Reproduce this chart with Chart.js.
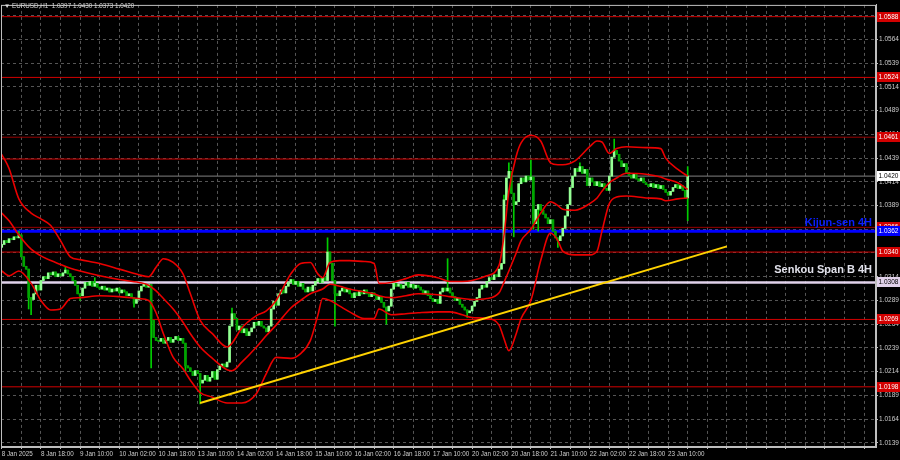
<!DOCTYPE html>
<html>
<head>
<meta charset="utf-8">
<script src="https://cdn.jsdelivr.net/npm/chart.js@4.4.1/dist/chart.umd.min.js"></script>
<style>
  html, body { margin: 0; padding: 0; background: #000; }
  #wrap { position: relative; width: 900px; height: 460px; }
  #title {
    position: absolute; left: 4px; top: 2px;
    font: 6.3px 'Liberation Sans', sans-serif;
    color: #d8d8d8; white-space: pre;
  }
</style>
</head>
<body>
<div id="wrap">
  <canvas id="eurChart" width="900" height="460"></canvas>
  <div id="title">▼ EURUSD,H1  1.0397 1.0430 1.0373 1.0420</div>
</div>
<script>
// EURUSD H1, 8 Jan 02:00 .. 23 Jan, one close per hour bar
const firstOpen = 1.0345;
const closes = [
  1.0348,1.0352,1.0350,1.0354,1.0353,1.0356,1.0355,1.0358,1.0335,1.0325,
  1.0322,1.0292,1.0290,1.0296,1.0305,1.0300,1.0310,1.0314,1.0312,1.0318,
  1.0316,1.0319,1.0314,1.0317,1.0315,1.0318,1.0321,1.0317,1.0314,1.0310,
  1.0305,1.0296,1.0294,1.0302,1.0308,1.0305,1.0309,1.0304,1.0307,1.0303,
  1.0301,1.0304,1.0300,1.0302,1.0298,1.0301,1.0299,1.0302,1.0297,1.0300,
  1.0298,1.0294,1.0296,1.0292,1.0286,1.0290,1.0299,1.0304,1.0306,1.0303,
  1.0306,1.0268,1.0250,1.0247,1.0246,1.0249,1.0244,1.0247,1.0250,1.0245,
  1.0248,1.0251,1.0247,1.0249,1.0244,1.0220,1.0218,1.0214,1.0210,1.0215,
  1.0212,1.0202,1.0205,1.0210,1.0204,1.0208,1.0214,1.0206,1.0216,1.0220,
  1.0222,1.0219,1.0224,1.0262,1.0275,1.0270,1.0258,1.0262,1.0255,1.0259,
  1.0252,1.0256,1.0260,1.0266,1.0263,1.0267,1.0262,1.0260,1.0256,1.0262,
  1.0280,1.0288,1.0284,1.0296,1.0300,1.0297,1.0304,1.0308,1.0311,1.0306,
  1.0309,1.0304,1.0307,1.0301,1.0298,1.0303,1.0299,1.0305,1.0309,1.0312,
  1.0308,1.0313,1.0310,1.0340,1.0328,1.0310,1.0296,1.0294,1.0299,1.0302,
  1.0298,1.0301,1.0296,1.0292,1.0297,1.0294,1.0299,1.0296,1.0300,1.0296,
  1.0293,1.0297,1.0294,1.0290,1.0293,1.0287,1.0282,1.0278,1.0283,1.0301,
  1.0307,1.0304,1.0306,1.0302,1.0305,1.0308,1.0303,1.0306,1.0302,1.0305,
  1.0303,1.0300,1.0296,1.0299,1.0294,1.0291,1.0288,1.0290,1.0286,1.0298,
  1.0302,1.0299,1.0302,1.0297,1.0293,1.0289,1.0291,1.0285,1.0282,1.0279,
  1.0276,1.0278,1.0283,1.0288,1.0292,1.0301,1.0305,1.0303,1.0309,1.0313,
  1.0311,1.0316,1.0314,1.0322,1.0328,1.0395,1.0418,1.0425,1.0402,1.0390,
  1.0393,1.0412,1.0418,1.0414,1.0420,1.0416,1.0419,1.0370,1.0385,1.0390,
  1.0384,1.0380,1.0376,1.0370,1.0374,1.0362,1.0355,1.0352,1.0357,1.0365,
  1.0378,1.0390,1.0408,1.0420,1.0428,1.0425,1.0430,1.0423,1.0427,1.0410,
  1.0418,1.0414,1.0410,1.0414,1.0409,1.0412,1.0407,1.0405,1.0420,1.0440,
  1.0447,1.0443,1.0436,1.0430,1.0433,1.0424,1.0421,1.0418,1.0422,1.0417,
  1.0415,1.0418,1.0413,1.0411,1.0409,1.0412,1.0408,1.0411,1.0407,1.0410,
  1.0406,1.0403,1.0400,1.0404,1.0408,1.0411,1.0407,1.0410,1.0405,1.0397,
  1.0420
];

// bars with a visible wick beyond the body
const highIdx = [7, 26, 38, 94, 133, 182, 205, 207, 216, 236, 250, 280];
const highVal = [1.0362, 1.0325, 1.0313, 1.0281, 1.0355, 1.0333, 1.0400, 1.0434, 1.0437, 1.0434, 1.0459, 1.0430];
const lowIdx = [11, 12, 32, 54, 61, 75, 81, 136, 157, 190, 209, 217, 219, 227, 280];
const lowVal = [1.0280, 1.0274, 1.0289, 1.0282, 1.0218, 1.0214, 1.0180, 1.0262, 1.0264, 1.0271, 1.0356, 1.0364, 1.0362, 1.0345, 1.0373];

// bollinger bands, read at these bars
const bandIdx = [0,3,7,12,16,20,24,28,32,40,48,56,60,63,66,70,74,77,81,86,92,94,98,104,108,112,118,122,126,129,131,134,138,142,148,152,154,159,165,170,178,183,188,192,198,203,205,207,210,212,216,220,224,227,229,234,240,243,245,248,251,255,263,269,271,276,280];
const bandUpper = [1.0443,1.0428,1.0396,1.0381,1.0375,1.0368,1.0352,1.0335,1.0332,1.0328,1.0322,1.0316,1.0314,1.0324,1.0333,1.0329,1.0317,1.0296,1.0268,1.0254,1.0240,1.0244,1.0260,1.0273,1.0278,1.0289,1.0317,1.0328,1.0329,1.0317,1.0313,1.0329,1.0331,1.0331,1.0330,1.0328,1.0307,1.0308,1.0312,1.0316,1.0313,1.0309,1.0309,1.0310,1.0315,1.0326,1.0357,1.0404,1.0441,1.0455,1.0463,1.0457,1.0434,1.0432,1.0432,1.0436,1.0451,1.0457,1.0456,1.0444,1.0449,1.0451,1.0450,1.0449,1.0439,1.0427,1.0420];
const bandMiddle = [1.0381,1.0373,1.0358,1.0343,1.0336,1.0331,1.0327,1.0323,1.0320,1.0315,1.0311,1.0308,1.0305,1.0299,1.0291,1.0280,1.0266,1.0254,1.0240,1.0228,1.0216,1.0215,1.0224,1.0240,1.0252,1.0263,1.0281,1.0289,1.0296,1.0299,1.0301,1.0306,1.0304,1.0301,1.0298,1.0296,1.0294,1.0292,1.0294,1.0296,1.0295,1.0293,1.0291,1.0290,1.0291,1.0297,1.0308,1.0320,1.0339,1.0352,1.0364,1.0381,1.0393,1.0389,1.0385,1.0384,1.0391,1.0397,1.0404,1.0413,1.0418,1.0423,1.0422,1.0419,1.0417,1.0413,1.0406];
const bandLower = [1.0320,1.0315,1.0320,1.0307,1.0289,1.0279,1.0280,1.0291,1.0292,1.0294,1.0293,1.0291,1.0289,1.0276,1.0254,1.0229,1.0217,1.0205,1.0192,1.0187,1.0181,1.0181,1.0181,1.0191,1.0212,1.0229,1.0228,1.0233,1.0247,1.0273,1.0291,1.0289,1.0283,1.0277,1.0270,1.0270,1.0280,1.0274,1.0275,1.0276,1.0277,1.0277,1.0274,1.0271,1.0270,1.0263,1.0249,1.0236,1.0254,1.0270,1.0289,1.0331,1.0360,1.0352,1.0341,1.0337,1.0337,1.0341,1.0362,1.0391,1.0398,1.0399,1.0397,1.0396,1.0394,1.0396,1.0397];

// horizontal levels
const levelPrices = [1.0588, 1.0524, 1.0461, 1.0438, 1.0420, 1.0366, 1.0340, 1.0269, 1.0198];
const levelEnd = [null, null, null, 232, null, null, null, null, null];
const kijunPrice = 1.0362;
const senkouPrice = 1.0308;

// trend line
const trendIdx = [81, 296];
const trendPrice = [1.0181, 1.0346];

// axis labels
const labelIdx = [0, 16, 32, 48, 64, 80, 96, 112, 128, 144, 160, 176, 192, 208, 224, 240, 256, 272];
const labelText = ["8 Jan 2025", "8 Jan 18:00", "9 Jan 10:00", "10 Jan 02:00", "10 Jan 18:00", "13 Jan 10:00",
  "14 Jan 02:00", "14 Jan 18:00", "15 Jan 10:00", "16 Jan 02:00", "16 Jan 18:00", "17 Jan 10:00",
  "20 Jan 02:00", "20 Jan 18:00", "21 Jan 10:00", "22 Jan 02:00", "22 Jan 18:00", "23 Jan 10:00"];
const priceTicks = [1.0139, 1.0164, 1.0189, 1.0214, 1.0239, 1.0264, 1.0289, 1.0314, 1.0339, 1.0364,
  1.0389, 1.0414, 1.0439, 1.0464, 1.0489, 1.0514, 1.0539, 1.0564, 1.0589];

// price tags on the right axis and captions
const boxPrices = [1.0588, 1.0524, 1.0461, 1.0420, 1.0366, 1.0362, 1.0340, 1.0308, 1.0269, 1.0198];
const captionText = ["Kijun-sen 4H", "Senkou Span B 4H"];
const captionPrice = [1.0366, 1.0317];

// ---- styles ----
const FONT = "'Liberation Sans', Arial, sans-serif";
const X_MIN = -0.29, X_MAX = 356.86;
const Y_MIN = 1.01346, Y_MAX = 1.06004;
const GRID = "rgb(85,85,85)";
const AXIS = "rgb(190,190,190)";
const TEXT = "rgb(205,205,205)";
const RED = "rgb(210,0,0)";
const DARK_RED = "rgb(150,0,0)";
const BAND_RED = "rgb(235,0,0)";
const levelColors = [RED, RED, DARK_RED, RED, "rgb(130,130,130)", DARK_RED, RED, RED, RED];
const boxFill = [RED, RED, RED, "#ffffff", RED, "rgb(0,0,255)", RED, "rgb(225,210,235)", RED, RED];
const boxInk = ["#fff", "#fff", "#fff", "#000", "#fff", "#fff", "#fff", "#000", "#fff", "#fff"];
const captionColor = ["rgb(10,30,255)", "rgb(225,225,235)"];
const WICK = "rgb(0,205,0)";
const BULL = "rgb(150,255,150)";
const BEAR = "rgb(0,165,0)";

const candleOpen = closes.map((c, i) => i === 0 ? firstOpen : closes[i - 1]);
const candleHigh = closes.map((c, i) => Math.max(c, candleOpen[i]));
const candleLow = closes.map((c, i) => Math.min(c, candleOpen[i]));
highIdx.forEach((k, j) => { candleHigh[k] = highVal[j]; });
lowIdx.forEach((k, j) => { candleLow[k] = lowVal[j]; });

const gridIdx = [];
for (let v = 0; v <= X_MAX; v += 8) gridIdx.push(v);

const levelSets = levelPrices.map((p, i) => ({
  type: 'line',
  data: [{ x: X_MIN, y: p }, { x: levelEnd[i] === null ? X_MAX : levelEnd[i], y: p }],
  borderColor: levelColors[i],
  borderWidth: 1,
  pointRadius: 0,
  order: 9
}));

const bandSet = (vals) => ({
  type: 'line',
  data: bandIdx.map((k, i) => ({ x: k, y: vals[i] })),
  borderColor: BAND_RED,
  borderWidth: 1.6,
  pointRadius: 0,
  cubicInterpolationMode: 'monotone',
  order: 3
});

const overlayPlugin = {
  id: 'mtOverlay',
  afterDraw(chart) {
    const { ctx, chartArea: a } = chart;
    const y = chart.scales.y;
    ctx.save();
    ctx.strokeStyle = AXIS;
    ctx.lineWidth = 1;
    ctx.strokeRect(a.left + 0.5, a.top + 0.5, a.right - a.left - 1, a.bottom - a.top - 1);

    ctx.font = "bold 11px " + FONT;
    ctx.textAlign = 'right';
    ctx.textBaseline = 'alphabetic';
    captionText.forEach((t, i) => {
      ctx.fillStyle = captionColor[i];
      ctx.fillText(t, a.right - 4, y.getPixelForValue(captionPrice[i]) - 1);
    });

    ctx.font = "6.5px " + FONT;
    ctx.textAlign = 'left';
    ctx.textBaseline = 'middle';
    boxPrices.forEach((p, i) => {
      const py = Math.round(y.getPixelForValue(p));
      ctx.fillStyle = boxFill[i];
      ctx.fillRect(a.right + 1, py - 5, 23, 10);
      ctx.fillStyle = boxInk[i];
      ctx.fillText(p.toFixed(4), a.right + 2.5, py + 0.5);
    });
    ctx.restore();
  }
};

const ctx = document.getElementById('eurChart').getContext('2d');

new Chart(ctx, {
  type: 'bar',
  data: {
    datasets: [
      ...levelSets,
      {
        type: 'line',
        data: [{ x: X_MIN, y: senkouPrice }, { x: X_MAX, y: senkouPrice }],
        borderColor: "rgb(225,210,235)", borderWidth: 2.5, pointRadius: 0, order: 8
      },
      {
        type: 'line',
        data: [{ x: X_MIN, y: kijunPrice }, { x: X_MAX, y: kijunPrice }],
        borderColor: "rgb(0,0,255)", borderWidth: 3, pointRadius: 0, order: 8
      },
      {
        type: 'bar',
        data: closes.map((c, i) => ({ x: i, y: [candleLow[i], candleHigh[i]] })),
        backgroundColor: WICK,
        barThickness: 1,
        minBarLength: 1,
        grouped: false,
        order: 6
      },
      {
        type: 'bar',
        data: closes.map((c, i) => ({ x: i, y: [candleOpen[i], c] })),
        backgroundColor: closes.map((c, i) => c >= candleOpen[i] ? BULL : BEAR),
        borderWidth: 0,
        barThickness: 2,
        minBarLength: 1,
        grouped: false,
        order: 5
      },
      bandSet(bandUpper),
      bandSet(bandMiddle),
      bandSet(bandLower),
      {
        type: 'line',
        data: trendIdx.map((k, i) => ({ x: k, y: trendPrice[i] })),
        borderColor: "rgb(255,210,0)", borderWidth: 2, pointRadius: 0, order: 1
      }
    ]
  },
  options: {
    responsive: false,
    animation: false,
    devicePixelRatio: 1,
    layout: { padding: { left: 1, top: 3, right: 0, bottom: 0 } },
    plugins: { legend: { display: false }, tooltip: { enabled: false } },
    scales: {
      x: {
        type: 'linear',
        min: X_MIN,
        max: X_MAX,
        offset: false,
        grid: { color: GRID, offset: false, drawTicks: true, tickLength: 2, tickColor: AXIS },
        border: { color: AXIS, dash: [3, 3] },
        afterBuildTicks: s => { s.ticks = gridIdx.map(v => ({ value: v })); },
        afterFit: s => { s.height = 13; },
        ticks: {
          autoSkip: false, maxRotation: 0, minRotation: 0, align: 'start', padding: 1,
          color: TEXT, font: { family: FONT, size: 6.3 },
          callback: v => { const k = labelIdx.indexOf(v); return k >= 0 ? labelText[k] : ''; }
        }
      },
      y: {
        position: 'right',
        min: Y_MIN,
        max: Y_MAX,
        grid: { color: GRID, drawTicks: true, tickLength: 2, tickColor: AXIS },
        border: { color: AXIS, dash: [3, 3] },
        afterBuildTicks: s => { s.ticks = priceTicks.map(v => ({ value: v })); },
        afterFit: s => { s.width = 24; },
        ticks: {
          padding: 1, color: TEXT, font: { family: FONT, size: 6.5 },
          callback: v => v.toFixed(4)
        }
      }
    }
  },
  plugins: [overlayPlugin]
});
</script>
</body>
</html>
